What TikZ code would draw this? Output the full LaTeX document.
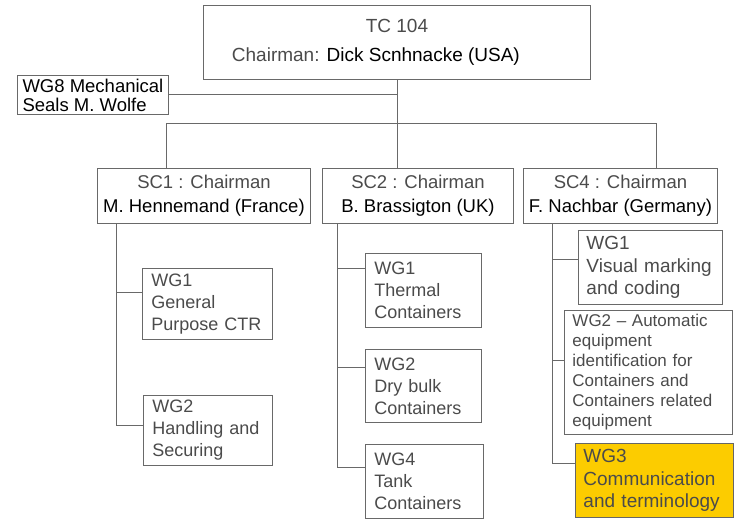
\documentclass[tikz,border=0pt]{standalone}
\usepackage{fontspec}
\setmainfont{Liberation Sans}
\usetikzlibrary{positioning,calc}
\definecolor{wgyellow}{RGB}{252,204,0}
\definecolor{txtgray}{RGB}{75,75,75}
\definecolor{linegray}{RGB}{105,105,105}

\begin{document}
\begin{tikzpicture}[x=1pt,y=-1pt,
  box/.style={draw=linegray,line width=0.9pt,anchor=north west,inner sep=0pt,text=txtgray},
  scbox/.style={box,align=center,minimum width=#1,minimum height=55pt,font=\fontsize{18.5}{24}\selectfont},
  wg/.style={box,align=left,inner xsep=9pt,font=\fontsize{18}{22}\selectfont},
  wgbig/.style={box,align=left,inner xsep=8pt,font=\fontsize{19}{22.5}\selectfont},
  link/.style={draw=linegray,line width=0.9pt}]
\fill[white] (0,0) rectangle (734,521);
\useasboundingbox (0,0) rectangle (734,521);

\node[box,minimum width=387pt,minimum height=74pt,align=left,font=\fontsize{19}{22}\selectfont] (tc) at (203,5)
  {\makebox[330pt]{TC 104}\\[7pt]Chairman: \textcolor{black}{Dick Scnhnacke (USA)}};
\node[box,minimum width=151pt,minimum height=39pt,align=left,text=black,font=\fontsize{18.5}{19}\selectfont] (wg8) at (17,75)
  {WG8 Mechanical\\Seals M. Wolfe};

\node[scbox=213pt] (sc1) at (97,168) {SC1 : Chairman\\\textcolor{black}{M. Hennemand (France)}};
\node[scbox=191pt] (sc2) at (322,168) {SC2 : Chairman\\\textcolor{black}{B. Brassigton (UK)}};
\node[scbox=194pt] (sc4) at (523,168) {SC4 : Chairman\\\textcolor{black}{F. Nachbar (Germany)}};

\node[wg,text width=112pt,minimum height=71pt] (s1wg1) at (142,268) {WG1\\General\\Purpose CTR};
\node[wg,text width=111pt,minimum height=70pt] (s1wg2) at (143,395) {WG2\\Handling and\\Securing};

\node[wg,text width=98pt,minimum height=74pt] (s2wg1) at (365,253) {WG1\\Thermal\\Containers};
\node[wg,text width=98pt,minimum height=73pt] (s2wg2) at (365,349) {WG2\\Dry bulk\\Containers};
\node[wg,text width=100pt,minimum height=74pt] (s2wg4) at (365,444) {WG4\\Tank\\Containers};

\node[wgbig,text width=128pt,minimum height=74pt] (s4wg1) at (578,230) {WG1\\Visual marking\\and coding};
\node[box,align=left,inner xsep=8pt,text width=152pt,minimum height=124pt,font=\fontsize{17}{20}\selectfont] (s4wg2) at (564,310)
  {WG2 -- Automatic\\equipment\\identification for\\Containers and\\Containers related\\equipment};
\node[wgbig,fill=wgyellow,draw=black!60,text width=142pt,minimum height=74pt] (s4wg3) at (575,443) {WG3\\Communication\\and terminology};

% top level
\coordinate (busL) at (166,123);
\coordinate (busR) at (656,123);
\draw[link] (tc.south) -- (tc.south |- sc2.north);
\draw[link] (wg8.east) -- (wg8.east -| tc.south);
\draw[link] (busL |- sc1.north) -- (busL) -- (busR) -- (busR |- sc4.north);

% working groups
\coordinate (sp1) at ([xshift=19pt]sc1.south west);
\coordinate (sp2) at ([xshift=15pt]sc2.south west);
\coordinate (sp4) at ([xshift=29pt]sc4.south west);
\draw[link] (sp1) |- ([yshift=11pt]s1wg1.west) (sp1) |- ([yshift=5pt]s1wg2.west);
\draw[link] (sp2) |- ([yshift=22pt]s2wg1.west) (sp2) |- ([yshift=18pt]s2wg2.west) (sp2) |- ([yshift=14pt]s2wg4.west);
\draw[link] (sp4) |- ([yshift=8pt]s4wg1.west) (sp4) |- ([yshift=12pt]s4wg2.west) (sp4) |- ([yshift=17pt]s4wg3.west);
\end{tikzpicture}
\end{document}
